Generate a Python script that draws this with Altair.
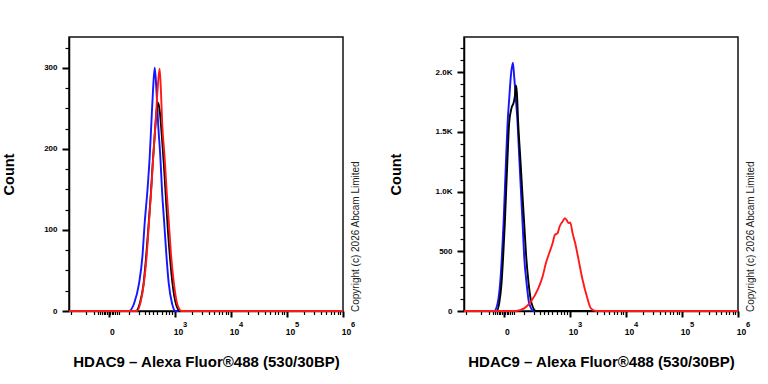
import math
import altair as alt
import pandas as pd

# Display axis in decade units: 3 -> 10^3, 4 -> 10^4 ...; the "0" mark sits at 1.82
X_MIN, X_MAX = 1.11, 6.0

# ---- Left panel histograms (x in decade units, y = count) ----
L_BLUE_X = [2.18, 2.27, 2.36, 2.42, 2.46, 2.51, 2.55, 2.58, 2.61, 2.64, 2.67, 2.70, 2.74, 2.77, 2.81, 2.85, 2.89, 2.95, 3.01]
L_BLUE_Y = [0, 9, 34, 67, 108, 149, 190, 232, 273, 300, 273, 232, 190, 149, 108, 67, 34, 9, 0]

L_BLACK_X = [2.304, 2.375, 2.438, 2.482, 2.527, 2.571, 2.607, 2.643, 2.675, 2.702, 2.732, 2.768, 2.804, 2.839, 2.875, 2.920, 2.964, 3.018, 3.089]
L_BLACK_Y = [0, 10, 32, 63, 103, 145, 185, 220, 248, 257, 245, 215, 180, 140, 100, 60, 30, 9, 0]

L_RED_X = [2.327, 2.388, 2.446, 2.495, 2.536, 2.577, 2.613, 2.655, 2.691, 2.727, 2.75, 2.773, 2.816, 2.852, 2.893, 2.934, 2.982, 3.041, 3.12]
L_RED_Y = [0, 11, 34, 67, 108, 149, 190, 232, 273, 299, 273, 232, 190, 149, 108, 67, 34, 9, 0]

# ---- Right panel histograms ----
R_BLUE_X = [1.648, 1.709, 1.755, 1.786, 1.816, 1.839, 1.863, 1.888, 1.916, 1.946, 1.982, 2.005, 2.036, 2.066, 2.095, 2.125, 2.155, 2.184, 2.227, 2.273, 2.352]
R_BLUE_Y = [0, 64, 232, 456, 735, 1015, 1295, 1574, 1770, 1966, 2077, 1966, 1770, 1574, 1295, 1015, 735, 456, 232, 64, 0]

R_BLACK_X = [1.691, 1.738, 1.780, 1.809, 1.839, 1.863, 1.888, 1.916, 1.959, 1.995, 2.018, 2.036, 2.054, 2.077, 2.113, 2.148, 2.184, 2.220, 2.263, 2.316, 2.393]
R_BLACK_Y = [0, 64, 232, 456, 735, 1015, 1295, 1574, 1700, 1742, 1798, 1888, 1826, 1574, 1295, 1015, 735, 456, 232, 64, 0]

R_RED_X = [2.036, 2.184, 2.304, 2.423, 2.513, 2.571, 2.630, 2.691, 2.732, 2.780, 2.816, 2.870, 2.911, 2.946, 2.977, 3.005, 3.048, 3.095, 3.155, 3.227, 3.304, 3.375, 3.464]
R_RED_Y = [0, 22, 78, 176, 288, 400, 483, 567, 638, 651, 707, 749, 777, 758, 735, 741, 651, 567, 428, 260, 120, 22, 0]

# ---- Axis ticks ----
X_MAJOR = [1.82, 3, 4, 5, 6]
X_MAJOR_LABELS = ["0", "10", "10", "10", "10"]
X_EXP_POS = [3, 4, 5, 6]
X_EXP_TEXT = ["3", "4", "5", "6"]
X_NEAR_ZERO = [1.14, 1.41, 1.55, 1.62, 1.66, 1.70, 1.73, 1.76, 1.79, 1.85, 1.875, 1.90, 1.93, 1.96, 2.0]
X_LOW_DECADE = [2.18, 2.36, 2.46, 2.54, 2.61, 2.68, 2.77, 2.84, 2.89, 2.95]

L_Y_TICKS = list(range(0, 326, 25))
L_Y_LABELS = {0: "0", 100: "100", 200: "200", 300: "300"}
R_Y_TICKS = list(range(0, 2201, 100))
R_Y_LABELS = {0: "0", 500: "500", 1000: "1.0K", 1500: "1.5K", 2000: "2.0K"}

X_TITLE = "HDAC9 – Alexa Fluor®488 (530/30BP)"
Y_TITLE = "Count"
COPYRIGHT = "Copyright (c) 2026 Abcam Limited"

BLUE, BLACK, RED = "#1515ff", "#000000", "#ff1a1a"
FONT = "Liberation Sans"
W, H = 274, 274

x_minor = X_NEAR_ZERO + X_LOW_DECADE + [
    d + math.log10(k) for d in (3, 4, 5) for k in range(2, 10)
]
x_values = sorted(X_MAJOR + x_minor)
x_label_expr = " : ".join(
    f"datum.value == {v} ? '{t}'" for v, t in zip(X_MAJOR, X_MAJOR_LABELS)
) + " : ''"
x_major_test = "indexof([" + ",".join(str(v) for v in X_MAJOR) + "], datum.value) >= 0"


def series_frame(xs, ys):
    xs = [X_MIN] + list(xs) + [X_MAX]
    ys = [0] + list(ys) + [0]
    return pd.DataFrame({"x": xs, "y": ys})


def y_axis(ticks, labels, title_pad):
    expr = " : ".join(f"datum.value == {v} ? '{t}'" for v, t in labels.items()) + " : ''"
    major = "indexof([" + ",".join(str(v) for v in labels) + "], datum.value) >= 0"
    return alt.Axis(
        values=ticks,
        labelExpr=expr,
        title=Y_TITLE,
        titleFont=FONT,
        titleFontSize=14.5,
        titleFontWeight="bold",
        titleColor="black",
        titlePadding=title_pad,
        labelFont=FONT,
        labelFontSize=8,
        labelFontWeight="bold",
        labelColor="black",
        labelPadding=5,
        labelOverlap=False,
        tickColor="black",
        tickWidth={"condition": {"test": major, "value": 2}, "value": 1.2},
        tickSize={"condition": {"test": major, "value": 7}, "value": 4},
        domainColor="black",
        domainWidth=1.5,
        grid=False,
    )


x_axis = alt.Axis(
    values=x_values,
    labelExpr=x_label_expr,
    title=X_TITLE,
    titleFont=FONT,
    titleFontSize=15,
    titleFontWeight="bold",
    titleColor="black",
    titlePadding=19,
    labelFont=FONT,
    labelFontSize=8.5,
    labelFontWeight="bold",
    labelColor="black",
    labelPadding=10,
    labelOffset=3,
    labelOverlap=False,
    labelFlush=False,
    labelBound=False,
    tickColor="black",
    tickWidth={"condition": {"test": x_major_test, "value": 2}, "value": 1.2},
    tickSize={"condition": {"test": x_major_test, "value": 6}, "value": 3.5},
    domainColor="black",
    domainWidth=1.5,
    grid=False,
)


def panel(curves, y_max, y_ticks, y_labels, title_pad):
    x_scale = alt.Scale(domain=[X_MIN, X_MAX], nice=False, zero=False)
    y_scale = alt.Scale(domain=[0, y_max], nice=False, zero=False)
    yax = y_axis(y_ticks, y_labels, title_pad)
    x_enc = alt.X("x:Q", scale=x_scale, axis=x_axis)
    layers = []
    for xs, ys, color in curves:
        layers.append(
            alt.Chart(series_frame(xs, ys))
            .mark_line(color=color, strokeWidth=1.9, interpolate="monotone")
            .encode(x=x_enc, y=alt.Y("y:Q", scale=y_scale, axis=yax))
        )
    # exponents of the decade labels (10^3 ... 10^6)
    exps = alt.Chart(pd.DataFrame({"x": X_EXP_POS, "e": X_EXP_TEXT})).mark_text(
        align="left", baseline="middle", dx=8, font=FONT, fontSize=7.5,
        fontWeight="bold", color="black",
    ).encode(x=x_enc, y=alt.value(H + 13.5), text="e:N")
    note = alt.Chart(pd.DataFrame({"t": [COPYRIGHT]})).mark_text(
        angle=270, align="left", baseline="middle", font=FONT, fontSize=10, color="#222"
    ).encode(x=alt.value(W + 13), y=alt.value(H + 1), text="t:N")
    return alt.layer(*layers, exps, note).properties(width=W, height=H)


left = panel(
    [(L_BLUE_X, L_BLUE_Y, BLUE), (L_BLACK_X, L_BLACK_Y, BLACK), (L_RED_X, L_RED_Y, RED)],
    338, L_Y_TICKS, L_Y_LABELS, 27,
)
right = panel(
    [(R_BLUE_X, R_BLUE_Y, BLUE), (R_BLACK_X, R_BLACK_Y, BLACK), (R_RED_X, R_RED_Y, RED)],
    2293, R_Y_TICKS, R_Y_LABELS, 32,
)

chart = (
    alt.hconcat(left, right, spacing=25)
    .properties(padding={"left": 0, "top": 36, "right": 0, "bottom": 0}, background="white")
    .configure_view(stroke="#111", strokeWidth=1.5)
)

chart.save("out.html", embed_options={"renderer": "svg", "actions": False})
